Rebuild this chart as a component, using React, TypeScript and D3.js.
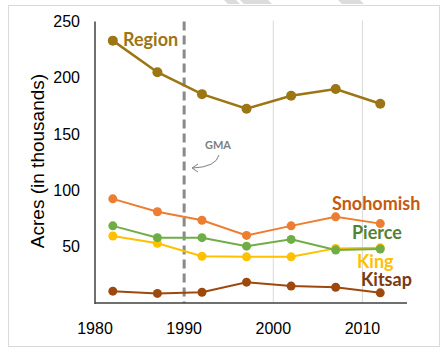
import React from "react";
import * as d3 from "d3";

const years = [1982, 1987, 1992, 1997, 2002, 2007, 2012];
const region = [233, 205, 185.5, 172.5, 184, 190, 177];
const snohomish = [92.5, 81, 73.5, 60, 68.5, 76.5, 70.5];
const pierce = [68.5, 58, 58, 50.5, 56.5, 47, 48];
const king = [59.5, 53, 41.5, 41, 41, 48.5, 49];
const kitsap = [10.5, 8.5, 9.5, 18.5, 15, 14, 9];
const xTicks = [1980, 1990, 2000, 2010];
const yTicks = [50, 100, 150, 200, 250];
const gridYears = [2000, 2010];

const series = [
  { name: "Kitsap", values: kitsap, color: "#9E480E", label: "#7B3A10", lx: 361, ly: 286, r: 4.5, w: 2 },
  { name: "King", values: king, color: "#FFC000", label: "#FFC000", lx: 357, ly: 268, r: 4.5, w: 2 },
  { name: "Pierce", values: pierce, color: "#70AD47", label: "#548235", lx: 352, ly: 239, r: 4.5, w: 2 },
  { name: "Snohomish", values: snohomish, color: "#ED7D31", label: "#C55A11", lx: 332, ly: 210, r: 4.5, w: 2 },
  { name: "Region", values: region, color: "#9C7514", label: "#9C7514", lx: 123, ly: 46, r: 5, w: 2.5 },
];

export default function App() {
  const x = d3.scaleLinear().domain([1980, 2015]).range([95, 407]);
  const y = d3.scaleLinear().domain([0, 250]).range([303, 21.5]);
  const line = d3
    .line<number>()
    .x((_, i) => x(years[i]))
    .y((d) => y(d));
  const labelFont = "Lato, 'Open Sans', sans-serif";
  const tickFont = "'Liberation Sans', Arial, sans-serif";
  return (
    <svg
      width={448}
      height={357}
      style={{ position: "absolute", left: 0, top: 0 }}
    >
      <rect x={0} y={0} width={448} height={357} fill="#fff" />
      <polygon points="224,0 236,0 240,4 228,4" fill="#dcdcdc" />
      <polygon points="240,0 268,0 272,4 244,4" fill="#dcdcdc" />
      <polygon points="338,0 360,0 364,4 342,4" fill="#dcdcdc" />
      <rect x={8.5} y={5.5} width={431} height={341} fill="#fff" stroke="#d9d9d9" strokeWidth={1} />
      {gridYears.map((g) => (
        <line key={g} x1={x(g)} x2={x(g)} y1={y(250) - 1} y2={y(0)} stroke="#d9d9d9" strokeWidth={1} />
      ))}
      <line x1={x(1990)} x2={x(1990)} y1={y(250)} y2={y(0)} stroke="#8a8a8a" strokeWidth={3} strokeDasharray="9,5" />
      <line x1={x(1980)} x2={x(1980)} y1={y(250)} y2={y(0) + 1} stroke="#404040" strokeWidth={1.5} />
      <line x1={x(1980)} x2={407} y1={y(0)} y2={y(0)} stroke="#404040" strokeWidth={1.5} />
      {yTicks.map((t) => (
        <text key={t} x={80} y={y(t)} dy="0.35em" textAnchor="end" fontFamily={tickFont} fontSize={16} fill="#000">
          {t}
        </text>
      ))}
      {xTicks.map((t) => (
        <text key={t} x={x(t)} y={334} textAnchor="middle" fontFamily={tickFont} fontSize={16} fill="#000">
          {t}
        </text>
      ))}
      <text
        transform="translate(44,161) rotate(-90)"
        textAnchor="middle"
        fontFamily={tickFont}
        fontSize={19}
        fill="#000"
      >
        Acres (in thousands)
      </text>
      <text x={218} y={149} textAnchor="middle" fontFamily={labelFont} fontWeight="bold" fontSize={11} fill="#7f7f7f">
        GMA
      </text>
      <path d="M219,155 Q216,167 193,168" fill="none" stroke="#7f7f7f" strokeWidth={1} />
      <path d="M198,164 L192,168 L198,172" fill="none" stroke="#7f7f7f" strokeWidth={1} />
      {series.map((s) => (
        <g key={s.name}>
          <path d={line(s.values) || ""} fill="none" stroke={s.color} strokeWidth={s.w} />
          {s.values.map((v, i) => (
            <circle key={i} cx={x(years[i])} cy={y(v)} r={s.r} fill={s.color} />
          ))}
          <text x={s.lx} y={s.ly} fontFamily={labelFont} fontWeight="bold" fontSize={18} fill={s.label}>
            {s.name}
          </text>
        </g>
      ))}
    </svg>
  );
}
